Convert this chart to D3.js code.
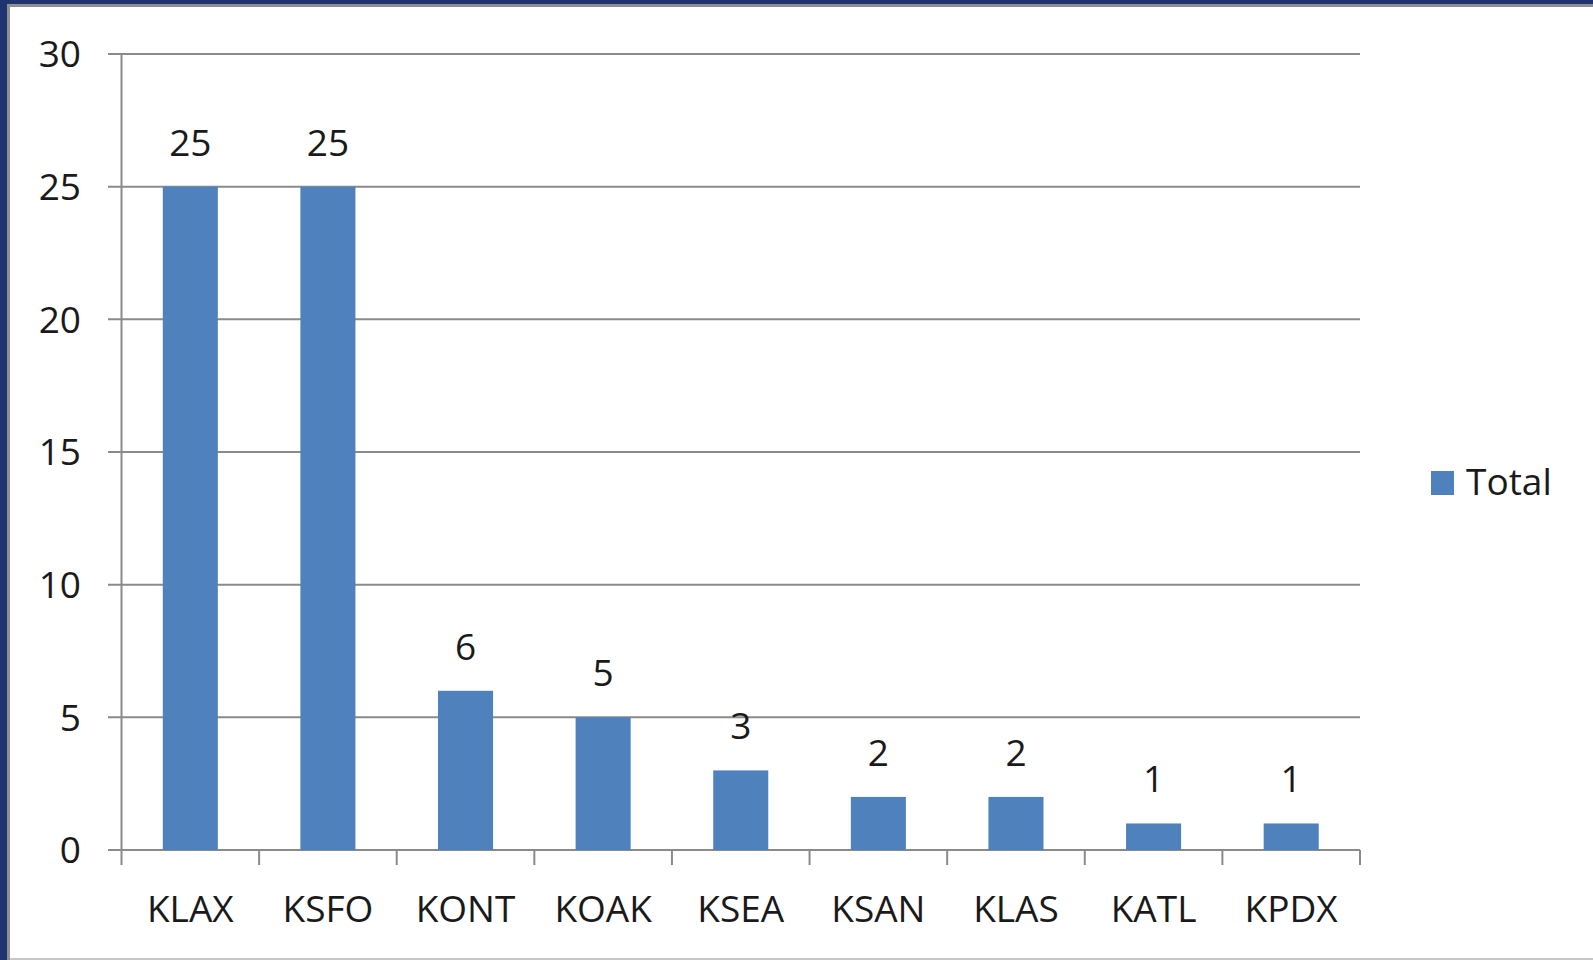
<!DOCTYPE html>
<html>
<head>
<meta charset="utf-8">
<script src="https://cdn.jsdelivr.net/npm/d3@7"></script>
<style>
html,body{margin:0;padding:0;background:#fff;}
svg{display:block;}
text{font-family:"Open Sans",sans-serif;fill:#1a1a1a;}
</style>
</head>
<body>
<svg id="chart" width="1593" height="960"></svg>
<script>
const categories = ["KLAX","KSFO","KONT","KOAK","KSEA","KSAN","KLAS","KATL","KPDX"];
const totals = [25,25,6,5,3,2,2,1,1];
const yTicks = [0,5,10,15,20,25,30];
const seriesName = "Total";

const svg = d3.select("#chart");
const W = 1593, H = 960;

// frame
svg.append("rect").attr("x",0).attr("y",0).attr("width",W).attr("height",H).attr("fill","#fff");
svg.append("rect").attr("x",0).attr("y",0).attr("width",W).attr("height",4).attr("fill","#1f3370");
svg.append("rect").attr("x",0).attr("y",0).attr("width",7).attr("height",H).attr("fill","#1f3370");
svg.append("rect").attr("x",7).attr("y",4).attr("width",W-7).attr("height",3).attr("fill","#8f8f8f");
svg.append("rect").attr("x",7).attr("y",4).attr("width",3).attr("height",H-4).attr("fill","#8f8f8f");
svg.append("rect").attr("x",10).attr("y",958).attr("width",W-10).attr("height",2).attr("fill","#c8c8c8");

const x0 = 121.5, x1 = 1360, yTop = 54, yBot = 850;
const x = d3.scaleBand().domain(categories).range([x0,x1]).padding(0);
const y = d3.scaleLinear().domain([0,30]).range([yBot,yTop]);

const gridColor = "#8a8a8a";
// gridlines
svg.append("g").selectAll("line").data(yTicks).join("line")
  .attr("x1",108).attr("x2",x1).attr("y1",d=>y(d)).attr("y2",d=>y(d))
  .attr("stroke",gridColor).attr("stroke-width",2);

// y axis
svg.append("line").attr("x1",x0).attr("x2",x0).attr("y1",yTop).attr("y2",yBot)
  .attr("stroke",gridColor).attr("stroke-width",2);
svg.append("g").selectAll("text").data(yTicks).join("text")
  .attr("x",81).attr("y",d=>y(d)).attr("dy","0.36em").attr("text-anchor","end")
  .attr("font-size",37).text(d=>d);

// x axis ticks
const bounds = categories.map(c=>x(c)).concat([x1]);
svg.append("g").selectAll("line").data(bounds).join("line")
  .attr("x1",d=>d).attr("x2",d=>d).attr("y1",yBot).attr("y2",yBot+15)
  .attr("stroke",gridColor).attr("stroke-width",2);

// bars
const barW = x.bandwidth()*0.4;
svg.append("g").selectAll("rect").data(categories).join("rect")
  .attr("x",(c)=>x(c)+x.bandwidth()*0.3)
  .attr("width",barW)
  .attr("y",(c,i)=>y(totals[i]))
  .attr("height",(c,i)=>yBot-y(totals[i]))
  .attr("fill","#4f81bd");

// value labels
svg.append("g").selectAll("text").data(categories).join("text")
  .attr("x",c=>x(c)+x.bandwidth()/2)
  .attr("y",(c,i)=>y(totals[i])-31)
  .attr("text-anchor","middle").attr("font-size",37)
  .text((c,i)=>totals[i]);

// category labels
svg.append("g").selectAll("text").data(categories).join("text")
  .attr("x",c=>x(c)+x.bandwidth()/2)
  .attr("y",922)
  .attr("text-anchor","middle").attr("font-size",37)
  .text(c=>c);

// legend
svg.append("rect").attr("x",1431).attr("y",471).attr("width",23).attr("height",24).attr("fill","#4f81bd");
svg.append("text").attr("x",1466).attr("y",495).attr("font-size",37).text(seriesName);
</script>
</body>
</html>
